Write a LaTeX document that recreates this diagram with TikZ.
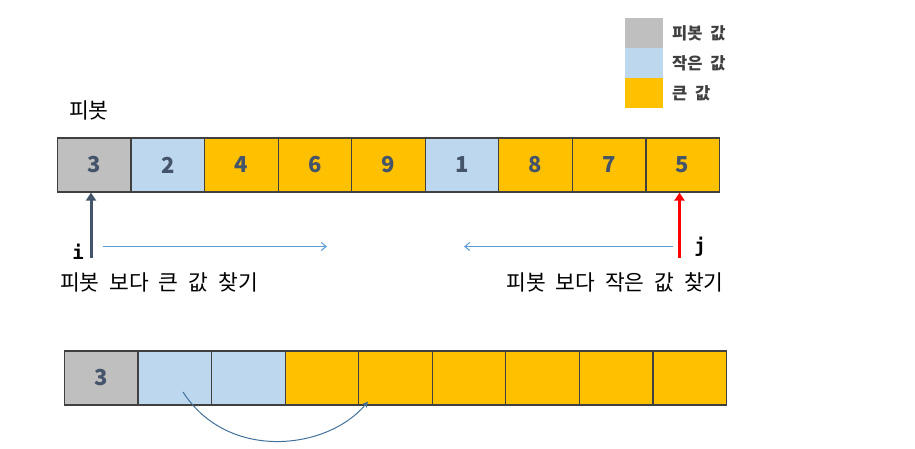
\documentclass[tikz,border=0pt]{standalone}
\usepackage{fontspec}
\setmainfont{Noto Sans CJK KR}
\newfontfamily\krfont[WordSpace=2.05]{Noto Sans CJK KR}
\newfontfamily\monofont{DejaVu Sans Mono}
\usetikzlibrary{arrows.meta}
\definecolor{pivotgray}{HTML}{BFBFBF}
\definecolor{smallblue}{HTML}{BDD7EE}
\definecolor{biggold}{HTML}{FFC000}
\definecolor{digitcol}{HTML}{44546A}
\definecolor{bordercol}{HTML}{404040}
\definecolor{linkblue}{HTML}{5B9BD5}
\definecolor{curveblue}{HTML}{41719C}
\definecolor{legtext}{HTML}{404040}
\begin{document}
\begin{tikzpicture}[x=1pt,y=-1pt,
  cell/.style={draw=bordercol,line width=1.2pt,minimum width=73.55pt,minimum height=54pt,inner sep=0pt,
    font=\krfont\bfseries\fontsize{22}{22}\selectfont,text=digitcol},
  legbox/.style={minimum width=38pt,minimum height=30pt,inner sep=0pt},
  legtxt/.style={anchor=west,font=\krfont\bfseries\fontsize{16.5}{16.5}\selectfont,text=legtext,inner sep=0pt},
  lbl/.style={font=\krfont\fontsize{21.5}{21.5}\selectfont,text=black,inner sep=0pt},
  ptr/.style={line width=3pt,-{Triangle[width=10pt,length=8pt]}},
  scan/.style={linkblue,line width=1pt,-{Straight Barb[width=8pt,length=5pt]}},
  idx/.style={font=\monofont\bfseries\fontsize{19}{19}\selectfont,inner sep=0pt}]
\useasboundingbox (0,0) rectangle (915,448);
% legend
\node[legbox,fill=pivotgray] (lg1) at (643.5,33) {};
\node[legbox,fill=smallblue] (lg2) at (643.5,63) {};
\node[legbox,fill=biggold] (lg3) at (643.5,93) {};
\node[legtxt] (lt1) at (672,33) {피봇 값};
\node[legtxt] (lt2) at (672,63) {작은 값};
\node[legtxt] (lt3) at (672,93) {큰 값};
% pivot label
\node[lbl,anchor=west] (plbl) at (69,110.5) {피봇};
% top row
\foreach \v/\c [count=\k] in {3/pivotgray,2/smallblue,4/biggold,6/biggold,9/biggold,1/smallblue,8/biggold,7/biggold,5/biggold}{
  \node[cell,fill=\c] (a\k) at ({57.5+73.55*(\k-0.5)},165) {\v};
}
% bottom row
\foreach \c [count=\k] in {pivotgray,smallblue,smallblue,biggold,biggold,biggold,biggold,biggold,biggold}{
  \node[cell,fill=\c] (b\k) at ({64.5+73.55*(\k-0.5)},378) {};
}
\node[cell,draw=none,fill=none] (b1t) at (b1.center) {3};
% pointers
\coordinate (ibase) at (91,258);
\coordinate (jbase) at (679.5,258);
\draw[ptr,digitcol] (ibase) -- (a1.south -| ibase);
\draw[ptr,red] (jbase) -- (a9.south -| jbase);
\node[idx] (ilbl) at (78,252) {i};
\node[idx] (jlbl) at (700,247) {j};
% scan arrows
\coordinate (is) at (103,246.5);
\coordinate (ie) at (327,246.5);
\coordinate (js) at (673,246.5);
\coordinate (je) at (464,246.5);
\draw[scan] (is) -- (ie);
\draw[scan] (js) -- (je);
% captions
\node[lbl] (cap1) at (159,282.5) {피봇 보다 큰 값 찾기};
\node[lbl] (cap2) at (615,282.5) {피봇 보다 작은 값 찾기};
% swap curve
\coordinate (cs) at (183,392);
\coordinate (ce) at (368,401.5);
\draw[curveblue,line width=1pt,-{Stealth[width=6pt,length=6pt]}] (cs) .. controls (228,462) and (328,450) .. (ce);
\end{tikzpicture}
\end{document}
